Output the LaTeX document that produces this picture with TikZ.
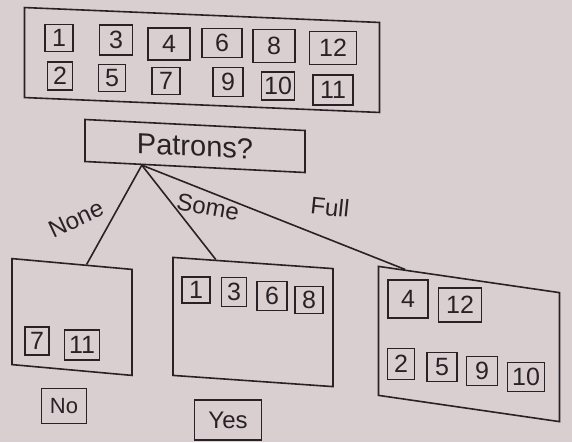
\documentclass[tikz,border=0pt]{standalone}
\usepackage{fontspec}
\setmainfont{Liberation Sans}
\usetikzlibrary{calc}
\definecolor{paper}{RGB}{217,207,209}
\definecolor{ink}{RGB}{40,34,38}
\begin{document}
\begin{tikzpicture}[x=1pt,y=-1pt,
  box/.style={draw=ink, line width=1.6pt, inner sep=0pt, text=ink},
  numbox/.style={box, minimum width=28pt, minimum height=28pt, font=\fontsize{25}{25}\selectfont},
  container/.style={box},
  lbl/.style={text=ink, font=\fontsize{24}{24}\selectfont},
  conn/.style={draw=ink, line width=1.6pt}]
\useasboundingbox (0,0) rectangle (572,442);
\fill[paper] (0,0) rectangle (572,442);

% top container
\node[container, minimum width=355pt, minimum height=90pt, yslant=-0.042] (top) at (202,60) {};
\node[numbox, minimum width=28pt, minimum height=27pt] (t1) at (59,38) {1};
\node[numbox, minimum width=33pt, minimum height=30pt] (t3) at (116,40) {3};
\node[numbox, minimum width=42pt, minimum height=32pt] (t4) at (169,44) {4};
\node[numbox, minimum width=40pt, minimum height=29pt] (t6) at (222,43) {6};
\node[numbox, minimum width=42pt, minimum height=33pt] (t8) at (274,46) {8};
\node[numbox, minimum width=47pt, minimum height=33pt] (t12) at (333,48) {12};
\node[numbox, minimum width=25pt, minimum height=28pt] (t2) at (60,76) {2};
\node[numbox, minimum width=27pt, minimum height=27pt] (t5) at (112,78) {5};
\node[numbox, minimum width=28pt, minimum height=27pt] (t7) at (166,81) {7};
\node[numbox, minimum width=30pt, minimum height=29pt] (t9) at (228,82) {9};
\node[numbox, minimum width=33pt, minimum height=28pt] (t10) at (278,86) {10};
\node[numbox, minimum width=40pt, minimum height=30pt] (t11) at (333,90) {11};

% question
\node[box, minimum width=220pt, minimum height=42pt, yslant=-0.05, font=\fontsize{29}{29}\selectfont] (P) at (195,146) {Patrons?\hspace{12pt}};
\coordinate (root) at ($(P.south west)!0.26!(P.south east)$);

% children containers
\node[container, minimum width=120pt, minimum height=106pt, yslant=-0.09] (L) at (72,317) {};
\node[container, minimum width=160pt, minimum height=118pt, yslant=-0.07] (M) at (253,322) {};
\node[container, minimum width=181pt, minimum height=129pt, yslant=-0.145] (R) at (469,344) {};

\draw[conn] (root) -- ($(L.north west)!0.62!(L.north east)$);
\draw[conn] (root) -- ($(M.north west)!0.27!(M.north east)$);
\draw[conn] (root) -- ($(R.north west)!0.15!(R.north east)$);

\node[lbl, rotate=25] (none) at (76,219) {None};
\node[lbl, rotate=-10] (some) at (208,207) {Some};
\node[lbl, rotate=-6] (full) at (330,207) {Full};

% left content
\node[numbox, minimum width=24pt, minimum height=28pt] (l7) at (37,341) {7};
\node[numbox, minimum width=35pt, minimum height=30pt] (l11) at (82,345) {11};
% middle content
\node[numbox, minimum width=28pt, minimum height=26pt] (m1) at (196,290) {1};
\node[numbox, minimum width=25pt, minimum height=29pt] (m3) at (234,292) {3};
\node[numbox, minimum width=30pt, minimum height=29pt] (m6) at (272,296) {6};
\node[numbox, minimum width=28pt, minimum height=27pt] (m8) at (309,300) {8};
% right content
\node[numbox, minimum width=40pt, minimum height=38pt] (r4) at (408,299) {4};
\node[numbox, minimum width=43pt, minimum height=34pt] (r12) at (460,305) {12};
\node[numbox, minimum width=27pt, minimum height=31pt] (r2) at (401,364) {2};
\node[numbox, minimum width=30pt, minimum height=29pt] (r5) at (442,367) {5};
\node[numbox, minimum width=31pt, minimum height=29pt] (r9) at (482,371) {9};
\node[numbox, minimum width=37pt, minimum height=29pt] (r10) at (526,377) {10};

% outcomes
\node[box, minimum width=45pt, minimum height=35pt, font=\fontsize{22}{22}\selectfont] (no) at (64,406) {No};
\node[box, minimum width=67pt, minimum height=40pt, font=\fontsize{24}{24}\selectfont] (yes) at (228,420) {Yes};
\end{tikzpicture}
\end{document}
